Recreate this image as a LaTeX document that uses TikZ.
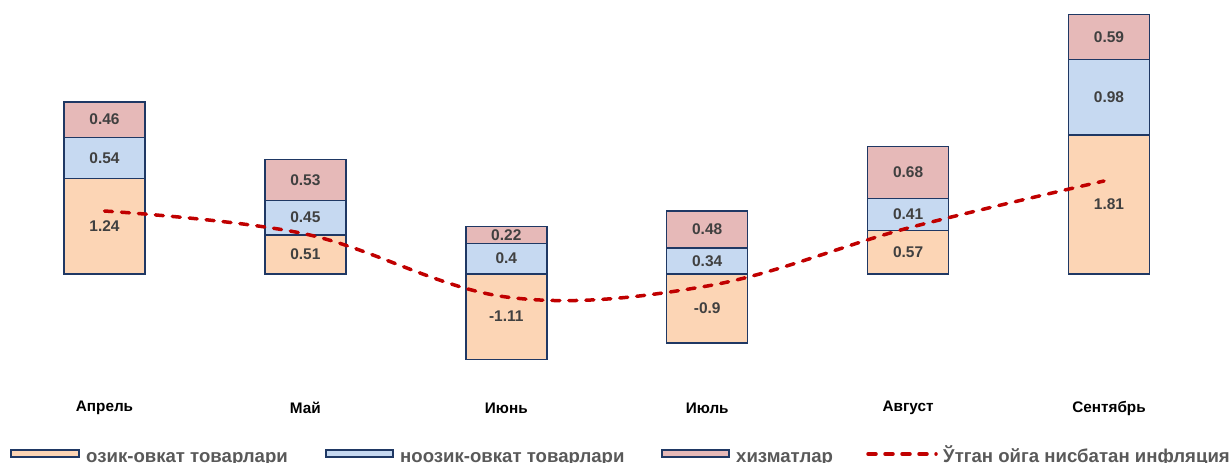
\documentclass[tikz,border=0pt]{standalone}
\usepackage{fontspec}
\setmainfont{Liberation Sans}
\usetikzlibrary{calc}
\definecolor{foodfill}{HTML}{FCD5B5}
\definecolor{nonfoodfill}{HTML}{C6D9F1}
\definecolor{servfill}{HTML}{E6B9B8}
\definecolor{baredge}{HTML}{1F3864}
\definecolor{inflred}{HTML}{C00000}
\definecolor{valgray}{HTML}{404040}
\definecolor{leggray}{HTML}{595959}
\tikzset{
	barbox/.style={draw=baredge, line width=1.4pt},
	val/.style={font=\fontsize{15.5}{15.5}\selectfont\bfseries, text=valgray, inner sep=0pt},
	month/.style={font=\fontsize{15.3}{15.3}\selectfont\bfseries, text=black, inner sep=0pt},
	legtext/.style={font=\fontsize{18.6}{18.6}\selectfont\bfseries, text=leggray, anchor=base west, inner sep=0pt},
	inflline/.style={draw=inflred, line width=3.5pt, line cap=round, dash pattern=on 8pt off 9pt}
}
% (name)(x:food:nonfood:services), zero at 274, 76.8 per unit
\def\stackbar(#1)(#2:#3:#4:#5){
	\pgfmathsetmacro{\basev}{max(#3,0)}
	\pgfmathsetmacro{\midv}{\basev+#4}
	\pgfmathsetmacro{\topv}{\midv+#5}
	\draw[barbox, fill=foodfill] ({#2-40.5}, 274) rectangle ({#2+40.5}, {274-76.8*#3});
	\draw[barbox, fill=nonfoodfill] ({#2-40.5}, {274-76.8*\basev}) rectangle ({#2+40.5}, {274-76.8*\midv});
	\draw[barbox, fill=servfill] ({#2-40.5}, {274-76.8*\midv}) rectangle ({#2+40.5}, {274-76.8*\topv});
	\coordinate (#1-f) at ({#2}, {274-76.8*#3/2});
	\coordinate (#1-n) at ({#2}, {274-76.8*(\basev+\midv)/2});
	\coordinate (#1-s) at ({#2}, {274-76.8*(\midv+\topv)/2});
}

\begin{document}
\begin{tikzpicture}[x=1pt, y=-1pt]
			%%%%% START %%%%%
			\useasboundingbox (0, 0) rectangle (1232, 463);
			
			\stackbar(apr)(104.5:1.24:0.54:0.46)
			\stackbar(may)(305.4:0.51:0.45:0.53)
			\stackbar(jun)(506.3:-1.11:0.4:0.22)
			\stackbar(jul)(707.2:-0.9:0.34:0.48)
			\stackbar(aug)(908.1:0.57:0.41:0.68)
			\stackbar(sep)(1109:1.81:0.98:0.59)
			
			\draw[inflline] plot[smooth, tension=0.6] coordinates {(104.5, 211) (305.4, 234) (506.3, 297) (707.2, 286) (908.1, 228) (1104, 181)};
			
			\node[val] (apr-fl) at (apr-f) {1.24};
			\node[val] (apr-nl) at (apr-n) {0.54};
			\node[val] (apr-sl) at (apr-s) {0.46};
			\node[val] (may-fl) at (may-f) {0.51};
			\node[val] (may-nl) at (may-n) {0.45};
			\node[val] (may-sl) at (may-s) {0.53};
			\node[val] (jun-fl) at (jun-f) {-1.11};
			\node[val] (jun-nl) at (jun-n) {0.4};
			\node[val] (jun-sl) at (jun-s) {0.22};
			\node[val] (jul-fl) at (jul-f) {-0.9};
			\node[val] (jul-nl) at (jul-n) {0.34};
			\node[val] (jul-sl) at (jul-s) {0.48};
			\node[val] (aug-fl) at (aug-f) {0.57};
			\node[val] (aug-nl) at (aug-n) {0.41};
			\node[val] (aug-sl) at (aug-s) {0.68};
			\node[val] (sep-fl) at (sep-f) {1.81};
			\node[val] (sep-nl) at (sep-n) {0.98};
			\node[val] (sep-sl) at (sep-s) {0.59};
			
			\node[month] (m-apr) at (104.5, 408) {Апрель};
			\node[month] (m-may) at (305.4, 408) {Май};
			\node[month] (m-jun) at (506.3, 408) {Июнь};
			\node[month] (m-jul) at (707.2, 408) {Июль};
			\node[month] (m-aug) at (908.1, 408) {Август};
			\node[month] (m-sep) at (1109, 408) {Сентябрь};
			
			% legend
			\draw[barbox, fill=foodfill] (11, 450) rectangle (79, 457);
			\node[legtext] (leg-food) at (86, 462.5) {озик-овкат товарлари};
			\draw[barbox, fill=nonfoodfill] (326, 450) rectangle (393, 457);
			\node[legtext] (leg-nonfood) at (400, 462.5) {ноозик-овкат товарлари};
			\draw[barbox, fill=servfill] (662, 450) rectangle (729, 457);
			\node[legtext] (leg-serv) at (736, 462.5) {хизматлар};
			\coordinate (leg-a) at (868, 454);
			\coordinate (leg-b) at (936, 454);
			\draw[inflline] (leg-a) -- (leg-b);
			\node[legtext] (leg-infl) at (943, 462.5) {Ўтган ойга нисбатан инфляция};
			
			%%%%% END %%%%%
\end{tikzpicture}
\end{document}
